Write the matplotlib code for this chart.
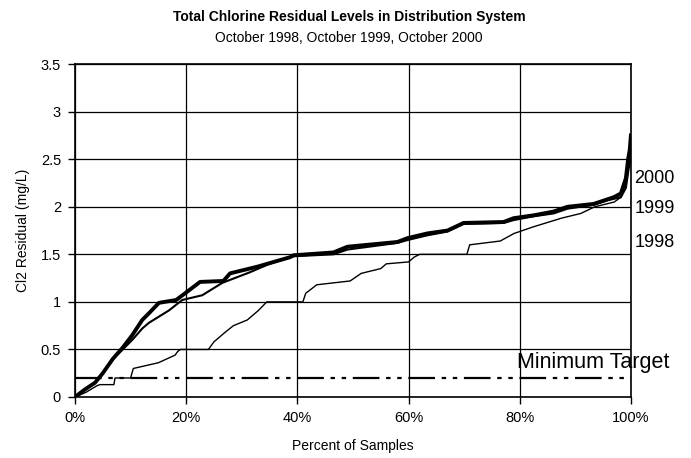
import matplotlib
matplotlib.use('Agg')
import matplotlib.pyplot as plt
from matplotlib.ticker import FuncFormatter

plt.rcParams['font.family'] = ['Liberation Sans', 'DejaVu Sans']

# Data (percent of samples, Cl2 residual mg/L)
pct_1998 = [0, 2, 4, 4.5, 7, 7.2, 10, 10.5, 15, 18, 18.5, 19, 24, 25, 27, 28.5, 31, 33,
            34.5, 41, 41.5, 43.5, 49.5, 51.5, 55, 56, 60, 61, 62, 70.5, 71, 76.5, 79,
            82.5, 87.5, 91, 93.5, 97, 98.2, 99.3, 99.7, 100]
val_1998 = [0, 0.05, 0.12, 0.13, 0.13, 0.2, 0.2, 0.3, 0.36, 0.44, 0.48, 0.5, 0.5, 0.58,
            0.68, 0.75, 0.81, 0.91, 1.0, 1.0, 1.09, 1.18, 1.22, 1.3, 1.35, 1.4, 1.42,
            1.47, 1.5, 1.5, 1.6, 1.64, 1.72, 1.79, 1.88, 1.93, 2.0, 2.05, 2.1, 2.3, 2.5,
            2.6]

pct_1999 = [0, 1.8, 3.6, 5, 6.8, 8.6, 10.3, 12.1, 13.3, 16.9, 19.3, 22.9, 26.5, 31.4, 35,
            38.7, 39.3, 46.5, 49, 58, 59.8, 63.4, 67, 69.9, 77.1, 78.9, 82.5, 86.1, 88.6,
            93.3, 95.9, 98.2, 99.1, 99.6, 100]
val_1999 = [0, 0.08, 0.15, 0.25, 0.4, 0.5, 0.6, 0.72, 0.78, 0.91, 1.02, 1.07, 1.2, 1.31,
            1.4, 1.47, 1.48, 1.5, 1.55, 1.62, 1.65, 1.7, 1.74, 1.82, 1.83, 1.86, 1.9, 1.93,
            1.98, 2.02, 2.07, 2.1, 2.2, 2.4, 2.5]

pct_2000 = [0, 1.8, 3.6, 5, 6.8, 8.6, 10.3, 12.1, 13.3, 15.1, 18.2, 19.8, 22.5, 26.7, 27.9,
            32.8, 38.7, 39.3, 46.5, 49, 58, 59.8, 63.4, 67, 69.9, 77.1, 78.9, 82.5, 86.1,
            88.6, 93.3, 96.9, 98.2, 99.1, 99.5, 99.8, 100]
val_2000 = [0, 0.08, 0.15, 0.25, 0.4, 0.52, 0.65, 0.81, 0.88, 0.99, 1.02, 1.09, 1.21, 1.22,
            1.3, 1.37, 1.47, 1.49, 1.52, 1.58, 1.63, 1.67, 1.72, 1.75, 1.83, 1.84, 1.88,
            1.91, 1.95, 2.0, 2.03, 2.1, 2.14, 2.3, 2.5, 2.6, 2.75]

min_target = 0.2

fig = plt.figure(figsize=(6.91, 4.58), dpi=100)
ax = fig.add_axes([0.1085, 0.1332, 0.8045, 0.7268])

ax.plot(pct_1998, val_1998, color='black', lw=1.0)
ax.plot(pct_1999, val_1999, color='black', lw=1.5)
ax.plot(pct_2000, val_2000, color='black', lw=2.8)
ax.plot([0, 100], [min_target, min_target], color='black', lw=1.6,
        dashes=[12, 3, 2, 3, 2, 3])

ax.set_xlim(0, 100)
ax.set_ylim(0, 3.5)
ax.set_xticks([0, 20, 40, 60, 80, 100])
ax.set_yticks([0, 0.5, 1, 1.5, 2, 2.5, 3, 3.5])
ax.xaxis.set_major_formatter(FuncFormatter(lambda v, p: '%d%%' % v))
ax.yaxis.set_major_formatter(FuncFormatter(lambda v, p: '%g' % v))
ax.grid(True, color='black', lw=0.9)
ax.tick_params(direction='out', length=5, width=1, labelsize=10.5, pad=5)
for s in ax.spines.values():
    s.set_linewidth(1.2)

ax.set_xlabel('Percent of Samples', fontsize=10, labelpad=10)
ax.set_ylabel('Cl2 Residual (mg/L)', fontsize=10, labelpad=8)

ax.text(100.6, 2.3, '2000', fontsize=13, va='center', ha='left', clip_on=False)
ax.text(100.6, 1.98, '1999', fontsize=13, va='center', ha='left', clip_on=False)
ax.text(100.6, 1.62, '1998', fontsize=13, va='center', ha='left', clip_on=False)
ax.text(79.6, 0.36, 'Minimum Target', fontsize=15.5, va='center', ha='left',
        clip_on=False)

fig.text(0.505, 0.962, 'Total Chlorine Residual Levels in Distribution System',
         fontsize=10, fontweight='bold', ha='center', va='center')
fig.text(0.505, 0.918, 'October 1998, October 1999, October 2000',
         fontsize=10, ha='center', va='center')

fig.savefig('out.png', dpi=100)
